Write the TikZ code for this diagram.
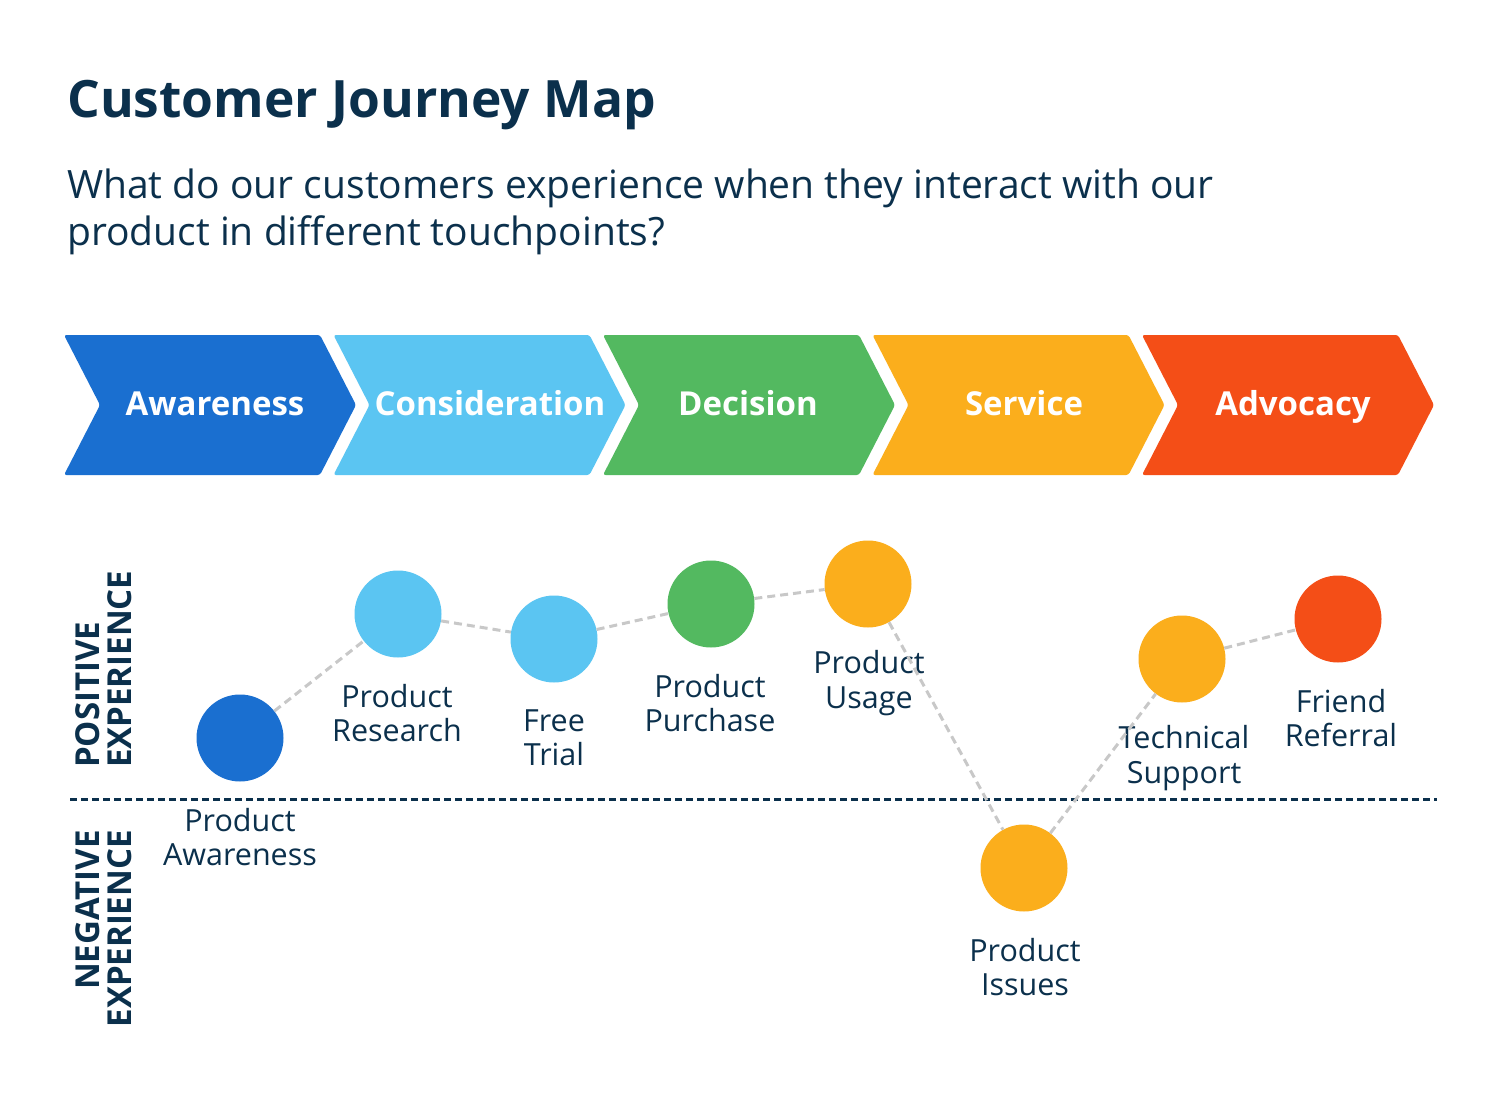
\documentclass[tikz,border=0pt]{standalone}
\usepackage{fontspec}
\setmainfont{Open Sans}
\definecolor{navy}{HTML}{0B304C}
\definecolor{cblue}{HTML}{1A6FD0}
\definecolor{clight}{HTML}{5BC5F2}
\definecolor{cgreen}{HTML}{53B960}
\definecolor{corange}{HTML}{FBAE1C}
\definecolor{cred}{HTML}{F44E17}
\definecolor{cgray}{HTML}{C8C8C8}
\tikzset{
  stagebox/.style={rounded corners=2.5pt},
  stagetext/.style={text=white, font=\fontsize{33}{38}\selectfont\bfseries, anchor=base, inner sep=0},
  dot/.style={circle, minimum size=87pt, inner sep=0},
  lbl/.style={text=navy, font=\fontsize{30.5}{34.5}\selectfont, align=center, inner sep=0, anchor=center},
  link/.style={draw=cgray, line width=3pt, dash pattern=on 8pt off 5pt},
  side/.style={text=navy, font=\fontsize{33}{32}\selectfont\bfseries, rotate=90, inner sep=0}
}
\begin{document}
\begin{tikzpicture}[x=1pt,y=-1pt]
\fill[white] (0,0) rectangle (1510,1102);
\useasboundingbox (0,0) rectangle (1510,1102);
% title
\node[anchor=base west, inner sep=0, text=navy, font=\fontsize{51.5}{60}\selectfont\bfseries] (title) at (67,118) {Customer Journey Map};
\node[anchor=base west, inner sep=0, text=navy, font=\fontsize{39}{46.5}\selectfont, align=left] (sub) at (67,245) {What do our customers experience when they interact with our\\product in different touchpoints?};
% chevrons
\foreach \i/\c in {0/cblue,1/clight,2/cgreen,3/corange,4/cred}{
  \pgfmathsetmacro{\xo}{64+269.5*\i}
  \fill[\c, stagebox] (\xo,335) -- (\xo+256,335) -- (\xo+292,405) -- (\xo+256,475) -- (\xo,475) -- (\xo+36,405) -- cycle;
}
\node[stagetext] (s1) at (215,415) {Awareness};
\node[stagetext] (s2) at (490,415) {Consideration};
\node[stagetext] (s3) at (748,415) {Decision};
\node[stagetext] (s4) at (1024,415) {Service};
\node[stagetext] (s5) at (1293,415) {Advocacy};
% side labels
\node[side, anchor=south west, align=left] (pos) at (132,768) {POSITIVE\\EXPERIENCE};
\node[side, anchor=south east, align=right] (neg) at (132,830) {NEGATIVE\\EXPERIENCE};
% divider
\coordinate (d1) at (70,799);
\coordinate (d2) at (1437,799);
\draw[navy, line width=3pt, dash pattern=on 7pt off 4pt] (d1) -- (d2);
% touchpoints
\node[dot, fill=cblue] (p1) at (240,738) {};
\node[dot, fill=clight] (p2) at (398,614) {};
\node[dot, fill=clight] (p3) at (554,639) {};
\node[dot, fill=cgreen] (p4) at (711,604) {};
\node[dot, fill=corange] (p5) at (868,584) {};
\node[dot, fill=corange] (p6) at (1024,868) {};
\node[dot, fill=corange] (p7) at (1182,659) {};
\node[dot, fill=cred] (p8) at (1338,619) {};
% labels
\node[lbl] (l1) at (240,837) {Product\\Awareness};
\node[lbl] (l2) at (397,713) {Product\\Research};
\node[lbl] (l3) at (554,738) {Free\\Trial};
\node[lbl] (l4) at (710,703) {Product\\Purchase};
\node[lbl] (l5) at (869,683) {Product\\Usage};
\node[lbl] (l6) at (1025,967) {Product\\Issues};
\node[lbl] (l7) at (1184,758) {Technical\\Support};
\node[lbl] (l8) at (1341,718) {Friend\\Referral};
% connectors
\draw[link] (p1) -- (p2);
\draw[link] (p2) -- (p3);
\draw[link] (p3) -- (p4);
\draw[link] (p4) -- (p5);
\draw[link] (p5) -- (p6);
\draw[link] (p6) -- (p7);
\draw[link] (p7) -- (p8);
\end{tikzpicture}
\end{document}
